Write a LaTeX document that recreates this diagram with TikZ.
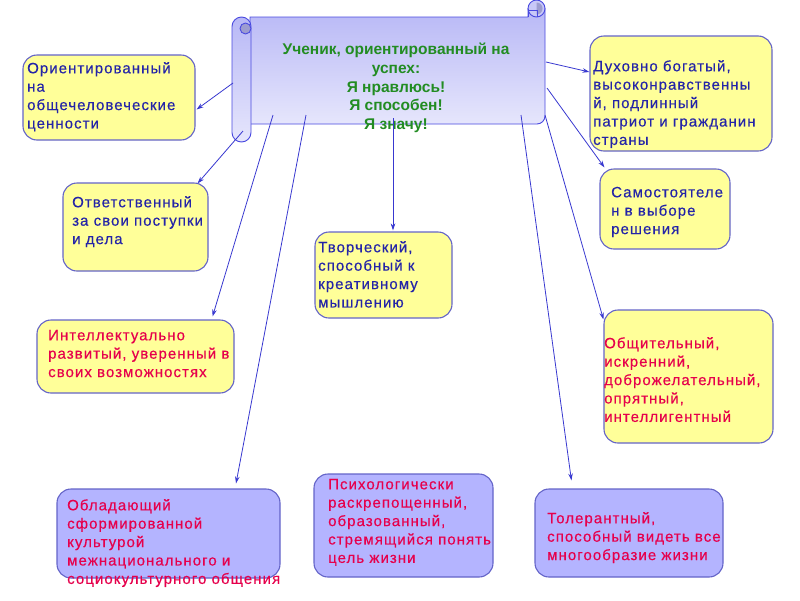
\documentclass[tikz,border=0pt]{standalone}
\usepackage{fontspec}
\setmainfont{Liberation Sans}
\newfontfamily\cardfont[LetterSpace=7,FakeBold=0.35]{Liberation Sans}
\usetikzlibrary{arrows.meta,fit,calc}
\definecolor{edgeblue}{HTML}{6464C8}
\definecolor{boxyellow}{HTML}{FFFF99}
\definecolor{boxviolet}{HTML}{B4B4FF}
\definecolor{txtblue}{HTML}{2424A8}
\definecolor{txtred}{HTML}{E6004C}
\definecolor{txtgreen}{HTML}{228C22}
\definecolor{linkblue}{HTML}{3838D0}
\definecolor{scrolltop}{HTML}{B8B8F6}
\definecolor{scrollbot}{HTML}{E6E6FC}
\definecolor{scrolledge}{HTML}{4A4AE0}
\definecolor{scrolldark}{HTML}{9C9CD0}
\definecolor{scrolllight}{HTML}{C8C8F8}
\begin{document}
\begin{tikzpicture}[x=1pt,y=-1pt,
  card/.style={draw=edgeblue, line width=1.1pt, rounded corners=14pt, inner sep=0pt},
  ycard/.style={card, fill=boxyellow},
  vcard/.style={card, fill=boxviolet},
  btext/.style={anchor=north west, inner sep=0pt, align=left,
    font=\cardfont\fontsize{15}{18.4}\selectfont},
  bluetext/.style={btext, text=txtblue},
  redtext/.style={btext, text=txtred},
  scrollpart/.style={draw=scrolledge, line width=0.9pt, top color=scrolltop, bottom color=scrollbot},
  scrollline/.style={draw=scrolledge, line width=0.9pt},
  link/.style={draw=linkblue, line width=0.8pt, -{Stealth[length=7pt,width=4.5pt]}},
]
\fill[white] (0,0) rectangle (800,600);
\useasboundingbox (0,0) rectangle (800,600);

% ---- scroll ----
\path[scrollpart] (250,17) -- (528,17) -- (528,8.5) -- (545,8.5) -- (545,116)
   arc[start angle=0, end angle=90, radius=8] -- (250,124) -- cycle;
\path[draw=scrolledge, line width=0.9pt, fill=scrolllight] (536.5,8.5) circle[radius=8.5];
\fill[scrolldark] (536.5,2.5) arc[start angle=-90, end angle=90, radius=6] -- cycle;
\draw[scrollline] (528,8.5) -- (528,17) (537,10) -- (537,17) (528,10) -- (537,10);
\path[scrollpart, rounded corners=9.5pt] (232,17) rectangle (251,142);
\path[draw=scrolledge, line width=0.9pt, fill=scrolldark] (245.5,28.5) circle[radius=5.5];
\node[fit={(232,17) (545,124)}, inner sep=0pt] (scroll) {};

\node[anchor=north, align=center, inner sep=0pt, text=txtgreen,
  font=\bfseries\fontsize{15.5}{18.7}\selectfont] (title) at (396,41.4)
  {\strut Ученик, ориентированный на\\успех:\\Я нравлюсь!\\Я способен!\\Я значу!};

% ---- cards ----
\node[ycard, fit={(23,55) (195,140)}] (b1) {};
\node[ycard, fit={(590,36) (772,151)}] (b2) {};
\node[ycard, fit={(63,183) (208,271)}] (b3) {};
\node[ycard, fit={(600,169) (730,249)}] (b4) {};
\node[ycard, fit={(315,232) (452,318)}] (b5) {};
\node[ycard, fit={(37,320) (234,393)}] (b6) {};
\node[ycard, fit={(604,310) (773,443)}] (b7) {};
\node[vcard, fit={(57,489) (280,578)}] (b8) {};
\node[vcard, fit={(314,474) (493,577)}] (b9) {};
\node[vcard, fit={(535,489) (723,577)}] (b10) {};

\node[bluetext] (t1) at (27,60.2) {\strut Ориентированный\\на\\общечеловеческие\\ценности};
\node[bluetext] (t2) at (593,58.2) {\strut Духовно богатый,\\высоконравственны\\й, подлинный\\патриот и гражданин\\страны};
\node[bluetext] (t3) at (72,194.2) {\strut Ответственный\\за свои поступки\\и дела};
\node[bluetext] (t4) at (611,184.2) {\strut Самостоятеле\\н в выборе\\решения};
\node[bluetext] (t5) at (318,239.2) {\strut Творческий,\\способный к\\креативному\\мышлению};
\node[redtext] (t6) at (48,327.2) {\strut Интеллектуально\\развитый, уверенный в\\своих возможностях};
\node[redtext] (t7) at (604,335.2) {\strut Общительный,\\искренний,\\доброжелательный,\\опрятный,\\интеллигентный};
\node[redtext] (t8) at (67,497.2) {\strut Обладающий\\сформированной\\культурой\\межнационального и\\социокультурного общения};
\node[redtext] (t9) at (328,476.2) {\strut Психологически\\раскрепощенный,\\образованный,\\стремящийся понять\\цель жизни};
\node[redtext] (t10) at (547,510.2) {\strut Толерантный,\\способный видеть все\\многообразие жизни};

% ---- connectors ----
\coordinate (s1) at (233,83);
\coordinate (s2) at (546,62);
\coordinate (s3) at (243,131);
\coordinate (s4) at (547,88);
\coordinate (s5) at (393,118);
\coordinate (s6) at (273,115);
\coordinate (s7) at (545,115);
\coordinate (s8) at (306,115);
\coordinate (s10) at (521,115);

\draw[link] (s1) -- ($(b1.east)+(1,12)$);
\draw[link] (s2) -- ($(b2.west)+(0,-21.5)$);
\draw[link] (s3) -- ($(b3.north east)+(-11,1)$);
\draw[link] (s4) -- ($(b4.north west)+(5,-1)$);
\draw[link] (s5) -- ($(b5.north)+(9.5,-1)$);
\draw[link] (s6) -- ($(b6.north east)+(-22,-3)$);
\draw[link] (s7) -- ($(b7.north west)+(0,10)$);
\draw[link] (s8) -- ($(b8.north)+(67.5,-5)$);
\draw[link] (s10) -- ($(b10.north west)+(37,-8)$);
\end{tikzpicture}
\end{document}
